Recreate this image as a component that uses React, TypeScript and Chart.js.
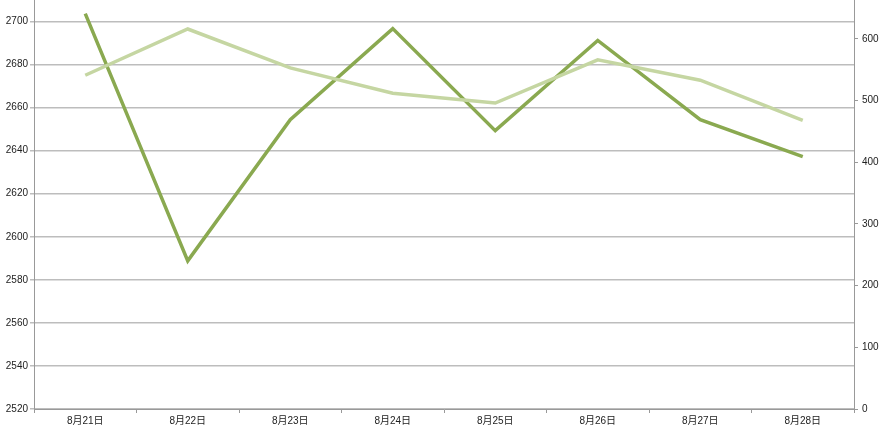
import React, { useEffect, useRef } from "react";
import { Chart, registerables } from "chart.js";

Chart.register(...registerables);

const categories = ["8月21日", "8月22日", "8月23日", "8月24日", "8月25日", "8月26日", "8月27日", "8月28日"];
const darkSeries = [2703.7, 2588.8, 2654.4, 2696.7, 2649.3, 2691.2, 2654.4, 2637.2];
const lightSeries = [541, 616, 553, 512, 496, 566, 533, 468];
const leftMin = 2520;
const leftMax = 2710;
const leftStep = 20;
const rightMin = 0;
const rightMax = 663;
const rightStep = 100;

const FONT = "'Liberation Sans', 'Noto Sans CJK SC', sans-serif";

export default function App() {
  const ref = useRef<HTMLCanvasElement>(null);
  useEffect(() => {
    document.body.style.margin = "0";
    const noPad = (s: any, w: number) => {
      s.width = w;
      s.paddingTop = 0;
      s.paddingBottom = 0;
    };
    const chart = new Chart(ref.current!, {
      type: "line",
      data: {
        labels: categories,
        datasets: [
          {
            data: lightSeries,
            yAxisID: "y1",
            borderColor: "#c5d6a2",
            borderWidth: 3.5,
            pointRadius: 0,
            tension: 0,
          },
          {
            data: darkSeries,
            yAxisID: "y",
            borderColor: "#8aa950",
            borderWidth: 3.5,
            pointRadius: 0,
            tension: 0,
          },
        ],
      },
      options: {
        animation: false,
        responsive: false,
        maintainAspectRatio: false,
        layout: { padding: 0 },
        plugins: { legend: { display: false }, tooltip: { enabled: false } },
        scales: {
          x: {
            offset: true,
            grid: { offset: true, drawOnChartArea: false, tickLength: 4, color: "#999", lineWidth: 1 },
            border: { color: "#999", width: 1 },
            ticks: { font: { family: FONT, size: 10 }, color: "#222", padding: 2, maxRotation: 0 },
            afterFit: (s: any) => { s.height = 21; s.paddingLeft = 0; s.paddingRight = 0; },
          },
          y: {
            position: "left",
            min: leftMin,
            max: leftMax,
            grid: { color: "#bdbdbd", lineWidth: 1.5, tickLength: 4 },
            border: { color: "#999", width: 1 },
            ticks: {
              stepSize: leftStep,
              includeBounds: false,
              font: { family: FONT, size: 10 },
              color: "#222",
              padding: 2,
              callback: (v: any) => String(v),
            },
            afterFit: (s: any) => noPad(s, 34),
          },
          y1: {
            position: "right",
            min: rightMin,
            max: rightMax,
            grid: { drawOnChartArea: false, tickLength: 4, color: "#999" },
            border: { color: "#999", width: 1 },
            ticks: {
              stepSize: rightStep,
              includeBounds: false,
              font: { family: FONT, size: 10 },
              color: "#222",
              padding: 4,
              callback: (v: any) => String(v),
            },
            afterFit: (s: any) => noPad(s, 31),
          },
        },
      },
    });
    return () => chart.destroy();
  }, []);
  return (
    <div style={{ width: 885, height: 430, background: "#fff" }}>
      <canvas ref={ref} width={885} height={430} style={{ display: "block" }} />
    </div>
  );
}
